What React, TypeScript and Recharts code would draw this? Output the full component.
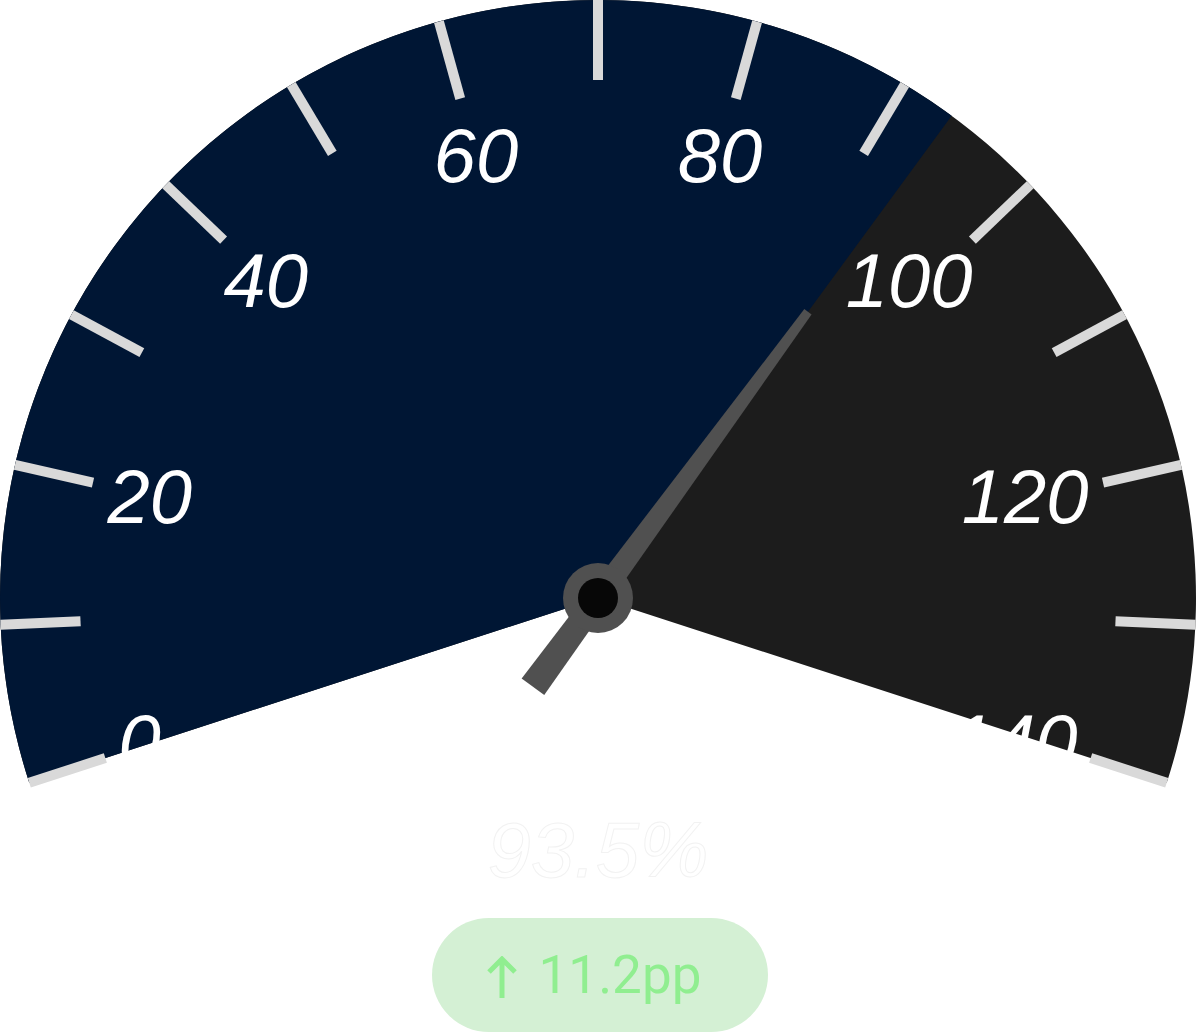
import { PolarAngleAxis, RadialBar, RadialBarChart, Sector } from 'recharts'

// ─── Données ──────────────────────────────────────────────────────────────────

const GAUGE_DATA = [{ name: 'Score', value: 93.5 }]
const GAUGE_DOMAIN: [number, number] = [0, 140]
const TICK_VALUES = [0, 10, 20, 30, 40, 50, 60, 70, 80, 90, 100, 110, 120, 130, 140]
const LABEL_VALUES = [0, 20, 40, 60, 80, 100, 120, 140]
const DELTA_TEXT = '11.2pp'

// ─── Mise en page / couleurs ──────────────────────────────────────────────────

const WIDTH = 1200
const HEIGHT = 1034
const CX = 598
const CY = 598
const OUTER_RADIUS = 598
const TICK_SIZE = 80
const LABEL_INSET = 138
const LABEL_FONT = 76
const LABEL_HALF = 42 // demi-largeur d'un libellé à deux chiffres

const NAVY = '#001634'
const DARK = '#1c1c1c'
const NEEDLE = '#505050'
const TICK = '#d9d9d9'
const GREEN = '#90ee90'
const RADIAN = Math.PI / 180

// Libellé des graduations (une sur deux), placé vers l'intérieur
function GaugeTick(props: any) {
  const { payload, cx = CX, cy = CY, radius = OUTER_RADIUS, textAnchor = 'middle' } = props
  if (!LABEL_VALUES.includes(payload.value)) return null
  const angle = payload.coordinate
  const r = radius - LABEL_INSET
  let x = cx + r * Math.cos(-angle * RADIAN)
  const y = cy + r * Math.sin(-angle * RADIAN)
  // ancrage côté centre, comme l'axe polaire "inner"
  if (textAnchor === 'start') x -= LABEL_HALF
  if (textAnchor === 'end') x += LABEL_HALF
  return (
    <text
      x={x}
      y={y}
      dy="0.36em"
      textAnchor={textAnchor}
      fill="#ffffff"
      fontSize={LABEL_FONT}
      fontStyle="italic"
      fontFamily="'Liberation Sans', Arial, sans-serif"
    >
      {payload.value}
    </text>
  )
}

// Secteur de valeur + aiguille + moyeu
function GaugeShape(props: any) {
  const { cx, cy, innerRadius, outerRadius, startAngle, endAngle } = props
  const a = -endAngle * RADIAN
  const dx = Math.cos(a)
  const dy = Math.sin(a)
  const nx = -dy
  const ny = dx
  const tip = 355
  const tail = 110
  const tipHalf = 4.5
  const tailHalf = 14
  const pts = [
    [cx + dx * tip + nx * tipHalf, cy + dy * tip + ny * tipHalf],
    [cx + dx * tip - nx * tipHalf, cy + dy * tip - ny * tipHalf],
    [cx - dx * tail - nx * tailHalf, cy - dy * tail - ny * tailHalf],
    [cx - dx * tail + nx * tailHalf, cy - dy * tail + ny * tailHalf],
  ]
    .map((p) => p.join(','))
    .join(' ')

  return (
    <g>
      <Sector
        cx={cx}
        cy={cy}
        innerRadius={innerRadius}
        outerRadius={outerRadius}
        startAngle={startAngle}
        endAngle={endAngle}
        fill={NAVY}
      />
      <polygon points={pts} fill={NEEDLE} />
      <circle cx={cx} cy={cy} r={35} fill={NEEDLE} />
      <circle cx={cx} cy={cy} r={20} fill="#070707" />
    </g>
  )
}

export default function App() {
  const value = GAUGE_DATA[0].value

  return (
    <div
      style={{
        position: 'absolute',
        left: 0,
        top: 0,
        width: WIDTH,
        height: HEIGHT,
        background: '#ffffff',
        overflow: 'hidden',
      }}
    >
      <RadialBarChart
        width={WIDTH}
        height={HEIGHT}
        data={GAUGE_DATA}
        cx={CX}
        cy={CY}
        innerRadius={0}
        outerRadius={OUTER_RADIUS}
        startAngle={198}
        endAngle={-18}
        barCategoryGap={0}
        margin={{ top: 0, right: 0, bottom: 0, left: 0 }}
      >
        <RadialBar
          dataKey="value"
          background={{ fill: DARK }}
          shape={GaugeShape}
          isAnimationActive={false}
        />
        <PolarAngleAxis
          type="number"
          domain={GAUGE_DOMAIN}
          ticks={TICK_VALUES}
          tickCount={TICK_VALUES.length}
          orientation="inner"
          tickSize={TICK_SIZE}
          axisLine={false}
          tickLine={{ stroke: TICK, strokeWidth: 10 }}
          tick={GaugeTick}
        />
      </RadialBarChart>

      {/* Valeur centrale (blanc sur blanc, comme la référence) */}
      <div
        style={{
          position: 'absolute',
          left: 0,
          width: WIDTH - 4,
          top: 800,
          textAlign: 'center',
          fontFamily: "'Liberation Sans', Arial, sans-serif",
          fontStyle: 'italic',
          fontSize: 78,
          lineHeight: '100px',
          color: '#ffffff',
          WebkitTextStroke: '1px #f2f2f2',
        }}
      >
        {value}%
      </div>

      {/* Badge de variation */}
      <div
        style={{
          position: 'absolute',
          left: 432,
          top: 918,
          width: 336,
          height: 114,
          borderRadius: 57,
          background: '#d4f0d4',
          color: GREEN,
          fontFamily: 'Roboto, sans-serif',
          fontSize: 53,
          lineHeight: '53px',
          display: 'flex',
          alignItems: 'center',
          justifyContent: 'center',
          paddingRight: 12,
          boxSizing: 'border-box',
        }}
      >
        <svg width={30} height={42} style={{ marginRight: 22, marginTop: 4 }}>
          <path
            d="M15 3 V42 M2 16 L15 3 L28 16"
            stroke={GREEN}
            strokeWidth={5}
            fill="none"
          />
        </svg>
        <span>{DELTA_TEXT}</span>
      </div>
    </div>
  )
}
